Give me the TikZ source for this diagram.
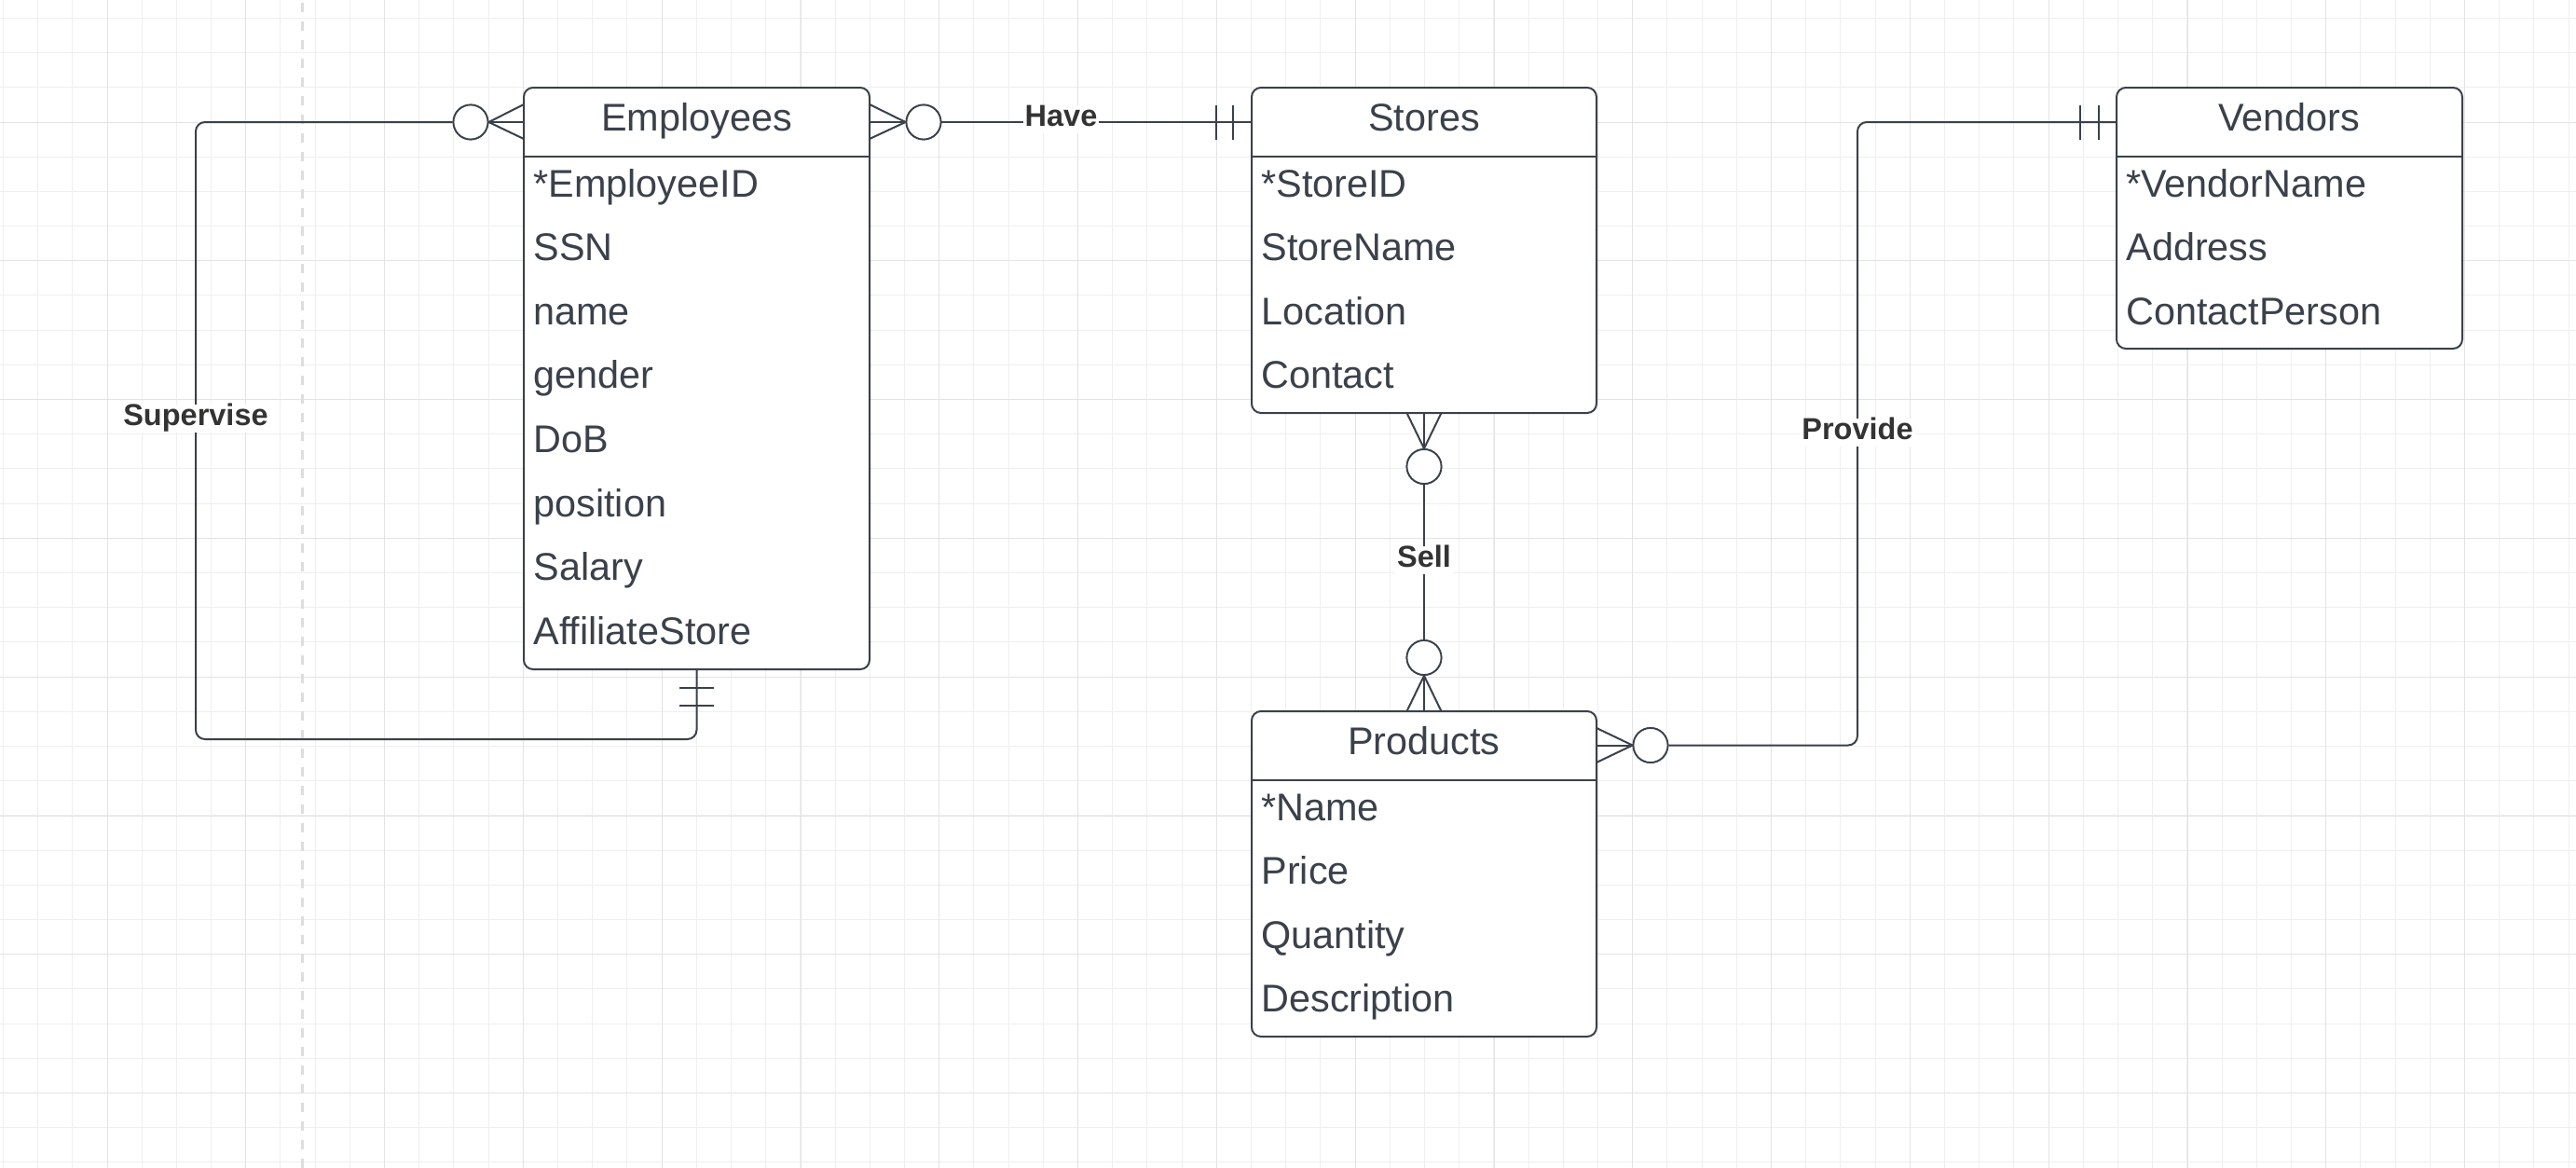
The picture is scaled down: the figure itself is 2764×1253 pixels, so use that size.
\documentclass[tikz,border=0pt]{standalone}
\usepackage{fontspec}
\setmainfont{Liberation Sans}
\usetikzlibrary{calc}
\definecolor{ink}{HTML}{3A414A}
\definecolor{lblink}{HTML}{333333}
\definecolor{gridminor}{HTML}{EFEFEF}
\definecolor{gridmajor}{HTML}{E3E3E3}
\definecolor{dashc}{HTML}{DDDDDD}
\begin{document}
\begin{tikzpicture}[x=0.5pt,y=-0.5pt,
  entity/.style={draw=ink, line width=1pt, fill=white, rounded corners=5pt, rectangle, inner sep=0pt},
  hdr/.style={font=\fontsize{20.7pt}{24pt}\selectfont, text=ink, anchor=base, inner sep=0pt},
  attr/.style={font=\fontsize{20.7pt}{24pt}\selectfont, text=ink, anchor=base west, inner sep=0pt},
  conn/.style={draw=ink, line width=1pt},
  sepline/.style={draw=ink, line width=1pt},
  zcirc/.style={circle, draw=ink, line width=0.9pt, fill=white, minimum size=18.5pt, inner sep=0pt},
  lbl/.style={font=\bfseries\fontsize{16.25pt}{19pt}\selectfont, text=lblink, fill=white, text height=0.85em, text depth=0.15em, inner xsep=1pt, inner ysep=2.5pt}
]
\fill[white] (0,0) rectangle (2764,1253);
\useasboundingbox (0,0) rectangle (2764,1253);
% grid
\foreach \i in {-3,...,72} \draw[gridminor, line width=0.5pt] ({floor(115+37.2*\i)+0.5},0) -- ({floor(115+37.2*\i)+0.5},1253);
\foreach \i in {-4,...,31} \draw[gridminor, line width=0.5pt] (0,{floor(131+37.2*\i)+0.5}) -- (2764,{floor(131+37.2*\i)+0.5});
\foreach \i in {0,...,18} \draw[gridmajor, line width=0.5pt] ({floor(115+148.8*\i)+0.5},0) -- ({floor(115+148.8*\i)+0.5},1253);
\foreach \i in {-1,...,8} \draw[gridmajor, line width=0.5pt] (0,{floor(131+148.8*\i)+0.5}) -- (2764,{floor(131+148.8*\i)+0.5});
% dashed guide
\draw[dashc, line width=1.5pt, dash pattern=on 5pt off 5pt, dash phase=-1.5pt] (324.5,0) -- (324.5,1253);

% ---------- connectors ----------
% Supervise (Employees to Employees)
\node[zcirc] (supO) at (505,131) {};
\coordinate (supA) at (210,131);
\coordinate (supB) at (210,793);
\coordinate (supC) at (747.5,793);
\coordinate (empBot) at (747.5,718);
\draw[conn, rounded corners=5pt] (supO.west) -- (supA) -- (supB) -- (supC) -- (empBot);
\draw[conn] (562,112) -- (supO.east) -- (562,149);
\draw[conn] (562,131) -- (supO.east);
\draw[conn] ($(empBot)+(-18.5,20)$) -- ++(37,0);
\draw[conn] ($(empBot)+(-18.5,39)$) -- ++(37,0);
\node[lbl] (supL) at (210,449) {Supervise};

% Have (Employees - Stores)
\node[zcirc] (haveO) at (991,131) {};
\coordinate (haveEnd) at (1343,131);
\draw[conn] (933,112) -- (haveO.west) -- (933,149);
\draw[conn] (933,131) -- (haveO.west);
\draw[conn] (haveO.east) -- (haveEnd);
\draw[conn] ($(haveEnd)+(-20,-18.5)$) -- ++(0,37);
\draw[conn] ($(haveEnd)+(-38,-18.5)$) -- ++(0,37);
\node[lbl] (haveL) at (1138.5,128) {Have};

% Sell (Stores - Products)
\node[zcirc] (sellO1) at (1528,500.5) {};
\node[zcirc] (sellO2) at (1528,705.5) {};
\draw[conn] (1509.5,443) -- (sellO1.north) -- (1546.5,443);
\draw[conn] (1528,443) -- (sellO1.north);
\draw[conn] (1509.5,763) -- (sellO2.south) -- (1546.5,763);
\draw[conn] (1528,763) -- (sellO2.south);
\draw[conn] (sellO1.south) -- (sellO2.north);
\node[lbl] (sellL) at (1528,601) {Sell};

% Provide (Products - Vendors)
\node[zcirc] (provO) at (1771,799.5) {};
\coordinate (provA) at (1993,799.5);
\coordinate (provB) at (1993,131);
\coordinate (provEnd) at (2271,131);
\draw[conn] (1713,781) -- (provO.west) -- (1713,818);
\draw[conn] (1713,799.5) -- (provO.west);
\draw[conn, rounded corners=5pt] (provO.east) -- (provA) -- (provB) -- (provEnd);
\draw[conn] ($(provEnd)+(-19,-18.5)$) -- ++(0,37);
\draw[conn] ($(provEnd)+(-39,-18.5)$) -- ++(0,37);
\node[lbl] (provL) at (1993,464) {Provide};

% redraw circles on top
\foreach \c in {supO,haveO,sellO1,sellO2,provO} \node[zcirc] at (\c) {};

% ---------- entities ----------
% Employees
\node[entity, minimum width=185.5pt, minimum height=312pt] (emp) at (747.5,406) {};
\draw[sepline] (emp.west |- 0,168) -- (emp.east |- 0,168);
\node[hdr] (empH) at (747.5,140) {Employees};
\foreach \t [count=\i from 0] in {*EmployeeID,SSN,name,gender,DoB,position,Salary,AffiliateStore}
  \node[attr] (emp-\i) at (572,{211+68.6*\i}) {\t};

% Stores
\node[entity, minimum width=185pt, minimum height=174.5pt] (stores) at (1528,268.5) {};
\draw[sepline] (stores.west |- 0,168) -- (stores.east |- 0,168);
\node[hdr] (storesH) at (1528,140) {Stores};
\foreach \t [count=\i from 0] in {*StoreID,StoreName,Location,Contact}
  \node[attr] (stores-\i) at (1353,{211+68.6*\i}) {\t};

% Products
\node[entity, minimum width=185pt, minimum height=174.5pt] (prod) at (1528,937.5) {};
\draw[sepline] (prod.west |- 0,837) -- (prod.east |- 0,837);
\node[hdr] (prodH) at (1528,809) {Products};
\foreach \t [count=\i from 0] in {*Name,Price,Quantity,Description}
  \node[attr] (prod-\i) at (1353,{880+68.6*\i}) {\t};

% Vendors
\node[entity, minimum width=185.5pt, minimum height=140pt] (vend) at (2456.5,234) {};
\draw[sepline] (vend.west |- 0,168) -- (vend.east |- 0,168);
\node[hdr] (vendH) at (2456.5,140) {Vendors};
\foreach \t [count=\i from 0] in {*VendorName,Address,ContactPerson}
  \node[attr] (vend-\i) at (2281,{211+68.6*\i}) {\t};
\end{tikzpicture}
\end{document}
